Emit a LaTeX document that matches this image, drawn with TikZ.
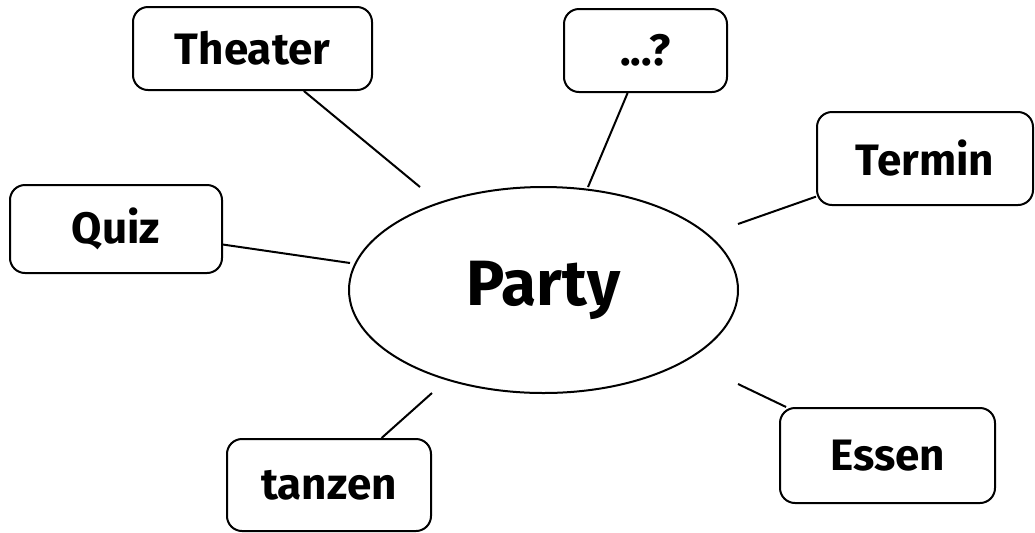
\documentclass[tikz,border=0pt]{standalone}
\usepackage{fontspec}
\setmainfont{Fira Sans}
\usepackage{tikz}
\usetikzlibrary{shapes.geometric}
\newcommand\bw[1]{\mbox{\bfseries #1}}

\begin{document}
\begin{tikzpicture}[x=0.5pt,y=-0.5pt,line width=1pt,
  word/.style={draw,rounded corners=7.5pt,inner sep=0pt,
    font=\fontsize{22}{26}\selectfont},
  topic/.style={draw,ellipse,inner sep=0pt,
    font=\fontsize{32}{38}\selectfont}]
\useasboundingbox (0,0) rectangle (1035,532);
\node[topic,minimum width=194.5pt,minimum height=103pt] (party) at (543.5,290) {\bw{Party}};
\node[word,minimum width=119.5pt,minimum height=41.5pt] (theater) at (252.5,48.5) {\bw{Theater}};
\node[word,minimum width=81.5pt,minimum height=41.5pt] (dots) at (645.5,50.5) {\bw{...?}};
\node[word,minimum width=108pt,minimum height=46.5pt] (termin) at (925,158.5) {\bw{Termin}};
\node[word,minimum width=106pt,minimum height=44pt] (quiz) at (116,229) {\bw{Quiz}};
\node[word,minimum width=102pt,minimum height=46pt] (tanzen) at (329,485) {\bw{tanzen}};
\node[word,minimum width=107.5pt,minimum height=47.5pt] (essen) at (887.5,455.5) {\bw{Essen}};
\coordinate (theaterend) at (420,187);
\coordinate (dotsend) at (588,187);
\coordinate (terminend) at (738,224);
\coordinate (quizend) at (350,263);
\coordinate (tanzenend) at (432,393);
\coordinate (essenend) at (738,384);
\foreach\x in {theater,dots,termin,quiz,tanzen,essen}
 \draw (\x) -- (\x end);
\end{tikzpicture}
\end{document}
